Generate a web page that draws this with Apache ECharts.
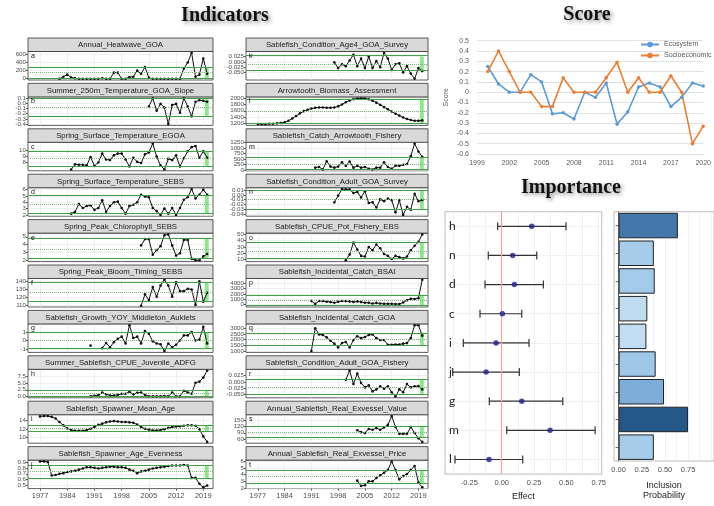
<!DOCTYPE html>
<html>
<head>
<meta charset="utf-8">
<title>Sablefish ESP indicators</title>
<script src="https://cdn.jsdelivr.net/npm/echarts@6.0.0/dist/echarts.min.js"></script>
<style>
html, body { margin: 0; padding: 0; background: #fff; }
#chart { width: 714px; height: 506px; }
</style>
</head>
<body>
<div id="chart"></div>
<script>
// ---------- indicator panels ----------
const panelNames = [
    'Annual_Heatwave_GOA', 'Summer_250m_Temperature_GOA_Slope', 'Spring_Surface_Temperature_EGOA',
    'Spring_Surface_Temperature_SEBS', 'Spring_Peak_Chlorophyll_SEBS', 'Spring_Peak_Bloom_Timing_SEBS',
    'Sablefish_Growth_YOY_Middleton_Auklets', 'Summer_Sablefish_CPUE_Juvenile_ADFG',
    'Sablefish_Spawner_Mean_Age', 'Sablefish_Spawner_Age_Evenness',
    'Sablefish_Condition_Age4_GOA_Survey', 'Arrowtooth_Biomass_Assessment', 'Sablefish_Catch_Arrowtooth_Fishery',
    'Sablefish_Condition_Adult_GOA_Survey', 'Sablefish_CPUE_Pot_Fishery_EBS', 'Sablefish_Incidental_Catch_BSAI',
    'Sablefish_Incidental_Catch_GOA', 'Sablefish_Condition_Adult_GOA_Fishery',
    'Annual_Sablefish_Real_Exvessel_Value', 'Annual_Sablefish_Real_Exvessel_Price'
];
const panelLetters = ['a','b','c','d','e','f','g','h','i','j','k','l','m','n','o','p','q','r','s','t'];
const startYears = [1982, 2005, 1985, 1985, 2003, 2003, 1990, 1990, 1977, 1977,
                    1997, 1977, 1992, 1997, 2000, 1991, 1991, 2000, 2003, 2003];

const vals_a = [0,50,100,30,10,0,0,0,0,0,0,10,0,0,150,150,0,0,40,50,200,120,290,20,0,0,0,0,0,0,0,0,250,400,640,50,100,500,120];
const vals_b = [-0.06,0.1,-0.14,-0.01,-0.08,-0.4,-0.03,-0.01,-0.18,0.1,-0.06,-0.25,0.03,0.06,0.05,0.03];
const vals_c = [6.8,7.7,7.6,7.6,7.5,8.9,7.4,8.0,9.5,8.5,8.4,9.2,9.5,9.5,8.5,7.3,8.8,8.1,7.9,9.4,9.7,11.2,9.0,7.5,6.8,8.6,8.4,9.2,7.3,8.7,9.9,10.6,10.8,8.8,9.9,8.8];
const vals_d = [2.2,2.5,3.7,3.1,3.4,3.5,2.8,3.1,4.3,2.5,3.4,4.0,4.1,3.1,2.2,3.4,3.6,4.0,5.2,4.9,4.8,3.1,2.6,2.0,3.0,2.2,3.1,2.0,3.1,4.4,4.8,6.1,4.6,5.2,6.0,5.2];
const vals_e = [3.9,4.7,4.7,2.7,3.3,3.8,5.2,5.3,3.9,2.6,2.9,4.6,4.6,2.2,2.0,2.0,2.5,2.8];
const vals_f = [110,124,117,133,121,135,142,135,121,139,128,128,131,130,111,140,115,126];
const vals_g = [-0.6,null,null,-0.9,-0.3,-0.8,-0.2,0.2,0.45,-0.35,1.8,0.3,0.45,-0.35,1.1,0.8,-0.1,-0.35,-0.45,-1.25,-0.35,-0.8,-0.5,0.0,0.6,0.6,1.0,0.0,0.1,1.6,-0.35];
const vals_h = [0.1,0.3,0.5,1.5,0.8,0.4,0.4,0.6,1.0,1.0,1.8,0.8,1.4,1.5,0.6,0.1,0.1,0.1,0.1,0.2,0.1,1.5,0.1,0.1,2.1,1.5,1.0,5.1,5.5,7.0,9.6];
const vals_i = [15.0,15.1,15.1,14.9,14.5,13.7,12.9,12.2,11.8,11.6,11.6,11.6,11.8,12.1,12.5,13.0,13.3,13.6,13.8,13.9,13.8,13.7,13.7,13.6,13.5,13.1,12.5,12.1,11.9,11.7,11.7,11.8,12.0,12.3,12.5,12.6,12.7,12.8,12.9,12.9,12.8,12.0,10.3,9.0];
const vals_j = [0.91,0.91,0.90,0.67,0.68,0.70,0.71,0.73,0.74,0.75,0.77,0.79,0.81,0.81,0.80,0.79,0.80,0.81,0.82,0.82,0.81,0.81,0.80,0.77,0.75,0.71,0.74,0.75,0.77,0.79,0.80,0.81,0.82,0.83,0.84,0.84,0.84,0.85,0.84,0.63,0.63,0.53,0.47,0.50];
const vals_k = [-0.002,-0.029,-0.011,-0.020,0.007,0.034,-0.020,0.016,-0.029,0.025,-0.029,0.004,-0.025,0.043,0.016,-0.038,-0.011,-0.007,-0.050,-0.020,-0.055,-0.079,-0.029,-0.043];
const vals_l = [1164,1164,1164,1176,1176,1188,1200,1224,1273,1345,1430,1515,1588,1636,1673,1697,1709,1709,1697,1697,1709,1745,1806,1879,1939,1976,2000,2012,2000,1976,1927,1867,1794,1721,1648,1576,1503,1442,1382,1333,1297,1273,1273,1285];
const vals_m = [114,146,32,406,162,114,162,357,195,390,114,195,114,146,65,32,114,114,357,146,65,195,195,243,276,633,1200,844,600];
const vals_n = [-0.0154,-0.0015,0.0123,0.0115,0.0115,0.0038,0.0062,-0.0054,0.0077,-0.0169,-0.0154,-0.0262,-0.0092,-0.0131,-0.0077,-0.0108,-0.0362,-0.0108,-0.0415,-0.0246,-0.0308,0.0023,-0.0131,-0.0108];
const vals_o = [9,18,37,26,16,15,30,25,34,28,19,16,11,16,14,12,15,25,32,38,50];
const vals_p = [670,130,670,650,550,470,350,550,670,650,600,500,600,470,350,350,200,330,200,150,150,150,100,120,400,800,1100,1050,1200,4600];
const vals_q = [1000,3000,2450,2400,2200,1900,1650,1320,1700,1800,1320,1970,2300,2130,2230,2400,2450,2130,1970,1970,1550,1550,1580,1580,1650,1700,2130,3260,3260,2350];
const vals_r = [0.009,0.045,-0.008,0.033,-0.004,-0.021,-0.013,-0.037,-0.029,-0.017,-0.026,-0.017,-0.040,-0.057,-0.029,-0.040,-0.008,-0.021,-0.017,-0.016,-0.029];
const vals_s = [102,93,89,108,104,112,104,115,127,169,117,85,85,85,117,89,64,47];
const vals_t = [3.1,2.3,2.4,3.0,3.0,3.5,3.9,4.3,4.7,6.0,4.7,3.3,3.8,4.1,4.7,5.3,2.8,2.1];
const panelValues = [vals_a, vals_b, vals_c, vals_d, vals_e, vals_f, vals_g, vals_h, vals_i, vals_j,
                     vals_k, vals_l, vals_m, vals_n, vals_o, vals_p, vals_q, vals_r, vals_s, vals_t];

// [mean - sd, mean, mean + sd] as drawn
const panelRefs = [
    [9,148,287], [-0.24,-0.07,0.085], [7.3,8.7,9.9], [2.2,3.7,5.1], [2.25,3.4,4.85],
    [115,127,139], [-0.9,0,1.0], [0,1.3,2.5], [11.5,12.2,12.9], [0.63,0.74,0.84],
    [-0.041,-0.007,0.025], [1190,1590,1990], [30,280,600], [-0.031,-0.011,0.01], [12,24,37],
    [-200,750,1700], [1480,2030,2600], [-0.050,-0.021,0.009], [70,94,123], [2.7,3.7,4.7]
];
const panelTicks = [
    ['0','200','400','600'], ['-0.4','-0.3','-0.2','-0.1','0.0','0.1'], ['8','9','10'],
    ['2','3','4','5','6'], ['2','3','4','5'], ['110','120','130','140'], ['-1','0','1'],
    ['0.0','2.5','5.0','7.5'], ['10','12','14'], ['0.5','0.6','0.7','0.8','0.9'],
    ['-0.050','-0.025','0.000','0.025'], ['1200','1400','1600','1800','2000'],
    ['0','250','500','750','1000','1250'], ['-0.04','-0.03','-0.02','-0.01','0.00','0.01'],
    ['10','20','30','40','50'], ['0','1000','2000','3000','4000'], ['1000','1500','2000','2500','3000'],
    ['-0.050','-0.025','0.000','0.025'], ['60','90','120','150'], ['2','3','4','5','6']
];
const yearTicks = [1977, 1984, 1991, 1998, 2005, 2012, 2019];

// ---------- score ----------
const scoreYears = [2000,2001,2002,2003,2004,2005,2006,2007,2008,2009,2010,2011,2012,2013,2014,2015,2016,2017,2018,2019,2020];
const ecosystemScore = [0.25,0.08,0,0,0.17,0.10,-0.21,-0.20,-0.26,0,-0.05,0.09,-0.31,-0.19,0.05,0.09,0.05,-0.14,-0.05,0.09,0.06];
const socioScore = [0.20,0.40,0.20,0,0,-0.14,-0.14,0.14,0,0,0,0.14,0.29,0,0.14,0,0,0.16,0,-0.50,-0.33];

// ---------- importance ----------
const impNames = ['h','n','d','c','i','j','g','m','l'];
const effectMean = [0.232,0.085,0.098,0.005,-0.044,-0.121,0.155,0.374,-0.098];
const effectLow = [-0.031,-0.104,-0.129,-0.168,-0.297,-0.379,-0.096,0.039,-0.361];
const effectHigh = [0.497,0.271,0.322,0.155,0.211,0.136,0.472,0.722,0.162];
const inclusionProb = [0.64,0.38,0.39,0.31,0.30,0.40,0.49,0.75,0.38];

// ---------- layout ----------
const cols = [{x: 28, w: 185}, {x: 246, w: 182}];
const rowTop0 = 38, rowStep = 45.4, stripH = 13.5, plotH = 28.5;

function yRange(vals, r) {
    const all = vals.filter(function (v) { return v !== null; }).concat(r);
    const lo = Math.min.apply(null, all), hi = Math.max.apply(null, all);
    const pad = (hi - lo) * 0.05;
    return [lo - pad, hi + pad];
}

const grids = [], xAxes = [], yAxes = [], series = [], graphics = [];

panelNames.forEach(function (name, i) {
    const col = cols[i < 10 ? 0 : 1];
    const row = i % 10;
    const top = rowTop0 + row * rowStep;
    const vals = panelValues[i];
    const r = panelRefs[i];
    const ticks = panelTicks[i];
    const tickNums = ticks.map(Number);
    const range = yRange(vals, r);

    grids.push({left: col.x, top: top + stripH, width: col.w, height: plotH,
        show: true, borderColor: '#333', borderWidth: 0.8, backgroundColor: '#fff'});
    xAxes.push({
        gridIndex: i, type: 'value', min: 1973.9, max: 2021.5,
        axisLine: {show: false},
        axisTick: {show: row === 9, length: 2, lineStyle: {color: '#555'}, customValues: yearTicks},
        axisLabel: {show: row === 9, customValues: yearTicks, fontSize: 7.5, color: '#4d4d4d', margin: 3,
            fontFamily: 'Liberation Sans', formatter: function (v) { return String(v); }},
        splitLine: {show: true, lineStyle: {color: '#e4e4e4', width: 0.6}}
    });
    // ticks split over two axes so the crowded labels are all kept, like the original
    const yIndex = yAxes.length;
    [0, 1].forEach(function (part) {
        const sub = tickNums.filter(function (t, k) { return k % 2 === part; });
        yAxes.push({
            gridIndex: i, type: 'value', min: range[0], max: range[1], position: 'left',
            axisLine: {show: false},
            axisTick: {show: true, length: 2, lineStyle: {color: '#555'}, customValues: sub},
            axisLabel: {customValues: sub, fontSize: 6.2, color: '#4d4d4d', margin: 2,
                hideOverlap: false, showMinLabel: true, showMaxLabel: true,
                fontFamily: 'Liberation Sans',
                formatter: function (v) {
                    const t = ticks.find(function (s) { return Math.abs(Number(s) - v) < 1e-9; });
                    return t === undefined ? '' : t;
                }},
            splitLine: {show: true, lineStyle: {color: '#e4e4e4', width: 0.6}}
        });
    });
    series.push({
        type: 'line', xAxisIndex: i, yAxisIndex: yIndex, silent: true, animation: false,
        data: vals.map(function (v, k) { return [startYears[i] + k, v]; }),
        symbol: 'circle', symbolSize: 2.6, showSymbol: true, connectNulls: false,
        lineStyle: {color: '#111', width: 1}, itemStyle: {color: '#111'},
        markArea: {silent: true, itemStyle: {color: 'rgba(110,228,110,0.8)'},
            data: [[{xAxis: 2019.4, yAxis: r[0]}, {xAxis: 2020.4, yAxis: r[2]}]]},
        markLine: {silent: true, symbol: 'none', label: {show: false}, animation: false,
            data: [
                {yAxis: r[0], lineStyle: {color: '#43a047', width: 1.2, type: 'solid'}},
                {yAxis: r[2], lineStyle: {color: '#43a047', width: 1.2, type: 'solid'}},
                {yAxis: r[1], lineStyle: {color: '#7cb67c', width: 1, type: 'dotted'}}
            ]}
    });

    // facet strip
    graphics.push({type: 'rect', shape: {x: col.x, y: top, width: col.w, height: stripH},
        style: {fill: '#d9d9d9', stroke: '#333', lineWidth: 0.8}, z: 10});
    graphics.push({type: 'text', x: col.x + col.w / 2, y: top + stripH / 2 + 0.5, z: 11,
        style: {text: name, fill: '#1a1a1a', font: '7.8px "Liberation Sans"', align: 'center', verticalAlign: 'middle'}});
    graphics.push({type: 'text', x: col.x + 3, y: top + stripH + 1, z: 11,
        style: {text: panelLetters[i], fill: '#111', font: '7px "Liberation Sans"', align: 'left', verticalAlign: 'top'}});
});

// ---------- score chart ----------
const scoreY = yAxes.length;
grids.push({left: 477, right: 9, top: 40.7, bottom: 352});
xAxes.push({gridIndex: 20, type: 'value', min: 1999, max: 2020, interval: 3,
    axisLine: {show: false}, axisTick: {show: false}, splitLine: {show: false},
    axisLabel: {fontSize: 7, color: '#595959', margin: 6, fontFamily: 'Liberation Sans',
        formatter: function (v) { return String(v); }}});
yAxes.push({gridIndex: 20, type: 'value', min: -0.6, max: 0.5, interval: 0.1,
    name: 'Score', nameLocation: 'middle', nameGap: 27, nameRotate: 90,
    nameTextStyle: {fontSize: 7, color: '#595959', fontFamily: 'Liberation Sans'},
    axisLine: {show: false}, axisTick: {show: false},
    axisLabel: {fontSize: 7, color: '#595959', margin: 8, fontFamily: 'Liberation Sans',
        formatter: function (v) { return String(Math.round(v * 10) / 10); }},
    splitLine: {lineStyle: {color: '#d9d9d9', width: 0.8}}});
series.push({type: 'line', name: 'Ecosystem', xAxisIndex: 20, yAxisIndex: scoreY, animation: false,
    data: scoreYears.map(function (y, k) { return [y, ecosystemScore[k]]; }),
    symbol: 'circle', symbolSize: 3.5, lineStyle: {color: '#5b9bd5', width: 1.6}, itemStyle: {color: '#5b9bd5'}});
series.push({type: 'line', name: 'Socioeconomic', xAxisIndex: 20, yAxisIndex: scoreY, animation: false,
    data: scoreYears.map(function (y, k) { return [y, socioScore[k]]; }),
    symbol: 'circle', symbolSize: 3.5, lineStyle: {color: '#ed7d31', width: 1.6}, itemStyle: {color: '#ed7d31'}});

// ---------- importance: effect ----------
const effY = yAxes.length;
const impIdx = impNames.map(function (n, k) { return k; });
grids.push({left: 445, width: 156.7, top: 211.7, height: 263.3, show: true,
    borderColor: '#aaa', borderWidth: 0.8, backgroundColor: '#fff'});
xAxes.push({gridIndex: 21, type: 'value', min: -0.4385, max: 0.773,
    name: 'Effect', nameLocation: 'middle', nameGap: 17,
    nameTextStyle: {fontSize: 9, color: '#222', fontFamily: 'Liberation Sans'},
    axisLine: {show: false},
    axisTick: {show: false, customValues: [-0.375,-0.25,-0.125,0,0.125,0.25,0.375,0.5,0.625,0.75]},
    axisLabel: {customValues: [-0.25,0,0.25,0.5,0.75], fontSize: 7.5, color: '#4d4d4d', margin: 5,
        fontFamily: 'Liberation Sans', formatter: function (v) { return v.toFixed(2); }},
    splitLine: {lineStyle: {color: '#ebebeb', width: 0.7}}});
yAxes.push({gridIndex: 21, type: 'value', min: -0.5, max: 8.5, inverse: true,
    axisLine: {show: false},
    axisTick: {show: false, customValues: impIdx},
    axisLabel: {customValues: impIdx, inside: true, margin: 4, fontSize: 12, color: '#222', fontFamily: 'Lato',
        formatter: function (v) { return impNames[Math.round(v)] || ''; }},
    splitLine: {lineStyle: {color: '#ebebeb', width: 0.7}}});
series.push({type: 'custom', xAxisIndex: 21, yAxisIndex: effY, silent: true, animation: false,
    data: impNames.map(function (n, k) { return [effectLow[k], effectHigh[k], k]; }),
    renderItem: function (params, api) {
        const a = api.coord([api.value(0), api.value(2)]);
        const b = api.coord([api.value(1), api.value(2)]);
        const cap = 4;
        const st = {stroke: '#333', lineWidth: 1.2};
        return {type: 'group', children: [
            {type: 'line', shape: {x1: a[0], y1: a[1], x2: b[0], y2: b[1]}, style: st},
            {type: 'line', shape: {x1: a[0], y1: a[1] - cap, x2: a[0], y2: a[1] + cap}, style: st},
            {type: 'line', shape: {x1: b[0], y1: b[1] - cap, x2: b[0], y2: b[1] + cap}, style: st}
        ]};
    }});
series.push({type: 'scatter', xAxisIndex: 21, yAxisIndex: effY, silent: true, animation: false, z: 5,
    data: impNames.map(function (n, k) { return [effectMean[k], k]; }),
    symbolSize: 5.5, itemStyle: {color: '#1f1f8f'},
    markLine: {silent: true, symbol: 'none', label: {show: false}, animation: false,
        lineStyle: {color: '#f4a3a3', width: 1.2, type: 'solid'}, data: [{xAxis: 0}]}});

// ---------- importance: inclusion probability ----------
const incY = yAxes.length;
grids.push({left: 614, right: -2, top: 211.7, height: 263.3, show: true,
    borderColor: '#aaa', borderWidth: 0.8, backgroundColor: '#fff'});
xAxes.push({gridIndex: 22, type: 'value', min: -0.05, max: 1.03,
    name: 'Inclusion\nProbability', nameLocation: 'middle', nameGap: 20,
    nameTextStyle: {fontSize: 9, color: '#222', lineHeight: 10, fontFamily: 'Liberation Sans'},
    axisLine: {show: false},
    axisTick: {show: false, customValues: [0,0.125,0.25,0.375,0.5,0.625,0.75,0.875,1]},
    axisLabel: {customValues: [0,0.25,0.5,0.75], fontSize: 7.5, color: '#4d4d4d', margin: 5,
        fontFamily: 'Liberation Sans', formatter: function (v) { return v.toFixed(2); }},
    splitLine: {lineStyle: {color: '#ebebeb', width: 0.7}}});
yAxes.push({gridIndex: 22, type: 'category', data: impNames, inverse: true,
    axisLine: {show: false},
    axisTick: {show: true, alignWithLabel: true, length: 3, lineStyle: {color: '#666'}},
    axisLabel: {show: false}, splitLine: {show: false}});
series.push({type: 'bar', xAxisIndex: 22, yAxisIndex: incY, silent: true, animation: false,
    data: inclusionProb, barWidth: '92%',
    itemStyle: {borderColor: '#222', borderWidth: 1},
    markLine: {silent: true, symbol: 'none', label: {show: false}, animation: false,
        lineStyle: {color: '#555', width: 1, type: 'solid'}, data: [{xAxis: 0}]}});

// ---------- titles ----------
function title(text, x, y) {
    return {type: 'text', x: x, y: y, z: 20,
        style: {text: text, font: 'bold 20px "Liberation Serif"', fill: '#111', align: 'center', verticalAlign: 'middle',
            textShadowColor: 'rgba(0,0,0,0.45)', textShadowBlur: 4, textShadowOffsetX: 2, textShadowOffsetY: 2}};
}
graphics.push(title('Indicators', 225, 16));
graphics.push(title('Score', 587, 15));
graphics.push(title('Importance', 571, 188));

const chart = echarts.init(document.getElementById('chart'), null, {renderer: 'canvas'});
chart.setOption({
    animation: false,
    backgroundColor: '#fff',
    grid: grids,
    xAxis: xAxes,
    yAxis: yAxes,
    legend: {data: ['Ecosystem', 'Socioeconomic'], orient: 'vertical', left: 640, top: 41, padding: 0,
        itemWidth: 18, itemHeight: 7, itemGap: 4,
        textStyle: {fontSize: 7, color: '#595959', fontFamily: 'Liberation Sans'}},
    visualMap: {show: false, type: 'continuous', seriesIndex: series.length - 1, dimension: 0,
        min: 0.3, max: 0.75, inRange: {color: ['#c2ddf1', '#8dbde4', '#4f84ba', '#245687']}},
    graphic: graphics,
    series: series
});
</script>
</body>
</html>
